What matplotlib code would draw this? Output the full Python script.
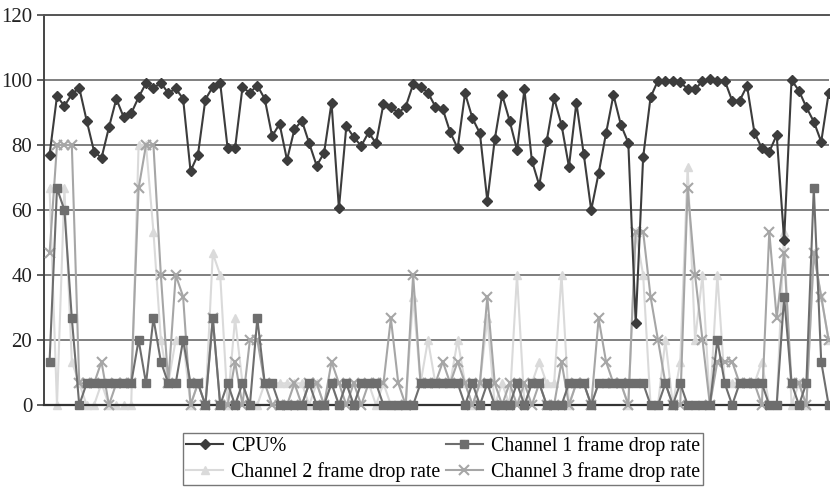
import matplotlib
matplotlib.use("Agg")
import matplotlib.pyplot as plt
import numpy as np

cpu = [77, 95, 92, 95.6, 97.6, 87.5, 78, 76, 85.4, 94.2, 88.5, 89.7, 94.7, 99, 97.4, 99.2,
       95.9, 97.4, 94.2, 72, 77, 94, 97.9, 99, 79, 79, 97.7, 96.1, 98.3, 94.2, 82.7, 86.5,
       75.4, 84.8, 87.5, 80.5, 73.6, 77.6, 93, 60.5, 85.8, 82.4, 79.7, 83.9, 80.5, 92.6,
       91.6, 89.9, 91.8, 98.7, 97.9, 96.1, 91.8, 91, 83.9, 79, 95.9, 88.2, 83.6, 62.8, 81.7,
       95.4, 87.5, 78.5, 97.1, 75.2, 67.6, 81.2, 94.4, 86.2, 73.3, 93, 77.1, 60, 71.3, 83.6,
       95.4, 86.2, 80.7, 25.1, 76.2, 94.7, 99.8, 99.8, 99.8, 99.5, 97.1, 97.1, 99.7, 100.2,
       99.8, 99.8, 93.6, 93.6, 98.2, 83.8, 79, 77.9, 83.1, 50.8, 100, 96.7, 91.6, 87.2, 81, 95.9]

a, b, c, d, e, f, g, h, k, m = 0, 6.67, 13.33, 20, 26.67, 33.33, 40, 46.67, 53.33, 66.67

ch1 = [c, m, 60, e, a, b, b, b, b, b, b, b, d, b, e, c, b, b, d, b, b, a, e, a, b, a, b, a, e, b,
       b, a, a, a, a, b, a, a, b, a, b, a, b, b, b, a, a, a, a, a, b, b, b, b, b, b, a, b, a, b,
       a, a, a, b, a, b, b, a, a, a, b, b, b, a, b, b, b, b, b, b, b, a, a, b, a, b, a, a, a, a,
       d, b, a, b, b, b, b, a, a, f, b, a, b, m, c, a]

ch2 = [m, a, m, c, b, a, a, b, a, a, a, a, 80, 80, k, d, b, d, d, a, b, a, h, g, a, e, b, a, a, b,
       b, b, b, b, b, a, b, a, b, a, b, a, b, b, a, b, a, a, a, f, b, d, b, b, b, d, b, a, b, e,
       a, b, a, g, a, b, c, b, b, g, a, b, b, a, b, b, b, b, a, k, g, a, a, d, a, c, 73.33, d, g, a,
       g, b, b, b, b, b, c, a, a, k, a, b, a, h, f, d]

ch3 = [h, 80, 80, 80, b, b, b, c, a, b, b, b, m, 80, 80, g, b, g, f, a, b, a, e, a, a, c, a, d, d, b,
       a, a, a, b, a, b, b, a, c, b, a, b, a, b, b, b, e, b, a, g, b, b, b, c, b, c, b, a, b, f,
       b, a, b, a, b, a, b, a, a, c, a, b, b, a, e, c, b, b, a, k, k, f, d, b, a, a, m, g, d, a,
       c, c, c, b, b, b, a, k, e, h, b, b, a, h, f, d]

labels = ["CPU%", "Channel 1 frame drop rate", "Channel 2 frame drop rate", "Channel 3 frame drop rate"]
yticks = [0, 20, 40, 60, 80, 100, 120]

serif = ["Liberation Serif", "DejaVu Serif"]

fig = plt.figure(figsize=(8.3, 4.88), dpi=100)
ax = fig.add_axes([44 / 830, 1 - 405 / 488, (829 - 44) / 830, (405 - 15) / 488])

x = np.arange(len(cpu))
l0, = ax.plot(x, cpu, color="#3c3c3c", lw=1.5, marker="D", ms=5, mfc="#3c3c3c", mec="#3c3c3c", zorder=5, clip_on=False)
l1, = ax.plot(x, ch1, color="#6e6e6e", lw=1.5, marker="s", ms=5.5, mfc="#6e6e6e", mec="#6e6e6e", zorder=4, clip_on=False)
l2, = ax.plot(x, ch2, color="#dadada", lw=1.5, marker="^", ms=6, mfc="#dadada", mec="#dadada", zorder=2, clip_on=False)
l3, = ax.plot(x, ch3, color="#a6a6a6", lw=1.5, marker="x", ms=7, mew=1.5, mfc="#a6a6a6", mec="#a6a6a6", zorder=3, clip_on=False)

ax.set_xlim(-0.75, 105.05)
ax.set_ylim(0, 120)
ax.set_yticks(yticks)
ax.set_yticklabels([str(t) for t in yticks], fontsize=15, family=serif, color="#222222")
ax.tick_params(axis="y", length=5, width=1.2, color="#444444", pad=3.5)
ax.tick_params(axis="x", length=0, labelbottom=False)
ax.grid(axis="y", color="#6a6a6a", lw=1.2, zorder=0)
ax.set_axisbelow(True)
ax.spines["right"].set_visible(False)
ax.spines["top"].set_color("#555555")
ax.spines["top"].set_linewidth(1.4)
ax.spines["left"].set_color("#444444")
ax.spines["left"].set_linewidth(1.4)
ax.spines["bottom"].set_color("#333333")
ax.spines["bottom"].set_linewidth(1.6)

leg = fig.legend([l0, l2, l1, l3], [labels[0], labels[2], labels[1], labels[3]], ncol=2, loc="center",
                 bbox_to_anchor=(443 / 830, 1 - 459 / 488),
                 prop={"family": serif, "size": 14.3}, frameon=True, fancybox=False,
                 edgecolor="#555555", handlelength=1.9, handletextpad=0.4,
                 columnspacing=0.25, borderpad=0.15, labelspacing=0.3)
leg.get_frame().set_linewidth(1.0)

fig.savefig("out.png", dpi=100)
